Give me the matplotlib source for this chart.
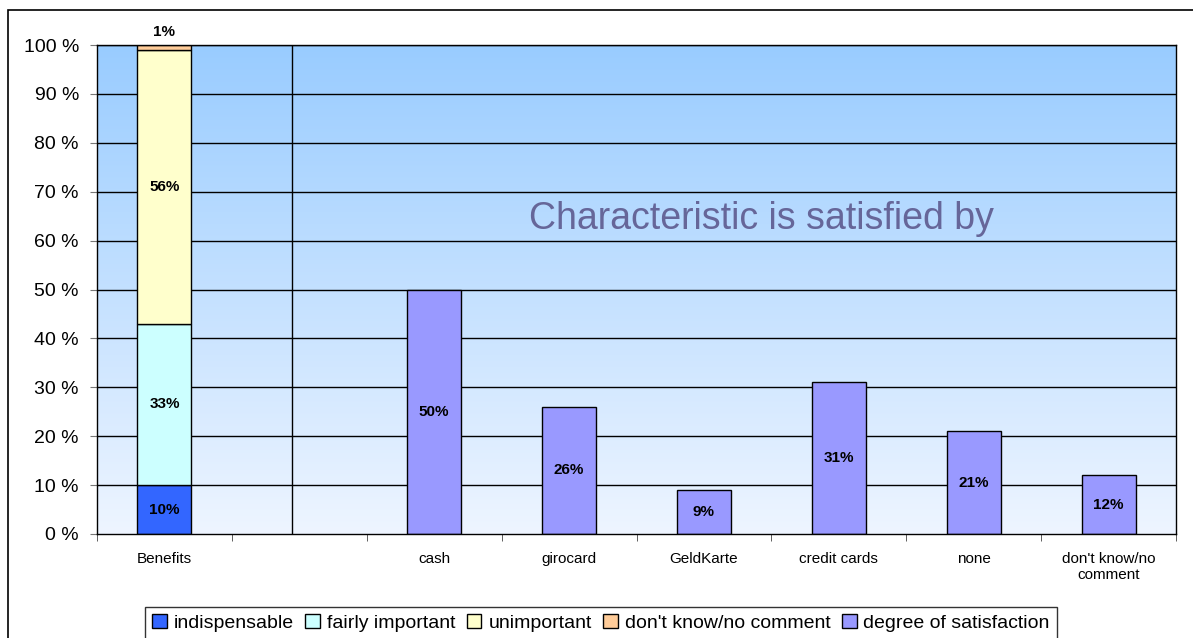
import matplotlib
matplotlib.use("Agg")
import matplotlib.pyplot as plt
import matplotlib.patches as mpatches
import numpy as np

plt.rcParams['font.family'] = ['Liberation Sans', 'DejaVu Sans']

categories = ["Benefits", "", "cash", "girocard", "GeldKarte", "credit cards",
              "none", "don't know/no\ncomment"]

# importance of the characteristic (stacked on the first category)
importance_labels = ["indispensable", "fairly important", "unimportant", "don't know/no comment"]
importance_values = [10, 33, 56, 1]
importance_colors = ["#3366FF", "#CCFFFF", "#FFFFCC", "#FFCC99"]

# degree of satisfaction by payment instrument
satisfaction_label = "degree of satisfaction"
satisfaction_cats = ["cash", "girocard", "GeldKarte", "credit cards", "none",
                     "don't know/no\ncomment"]
satisfaction_values = [50, 26, 9, 31, 21, 12]
satisfaction_color = "#9999FF"

yticks = [0, 10, 20, 30, 40, 50, 60, 70, 80, 90, 100]
ytick_labels = [f"{v} %" for v in yticks]

W, H = 1193, 638
fig = plt.figure(figsize=(W / 100, H / 100), dpi=100)
ax = fig.add_axes([97 / W, 1 - 534 / H, (1176 - 97) / W, (534 - 45) / H])

x = np.arange(len(categories))
ax.set_xlim(-0.5, len(categories) - 0.5)
ax.set_ylim(0, 100)

# vertical gradient background
top = np.array([153, 204, 255]) / 255
bot = np.array([238, 245, 255]) / 255
t = np.linspace(0, 1, 256)[:, None]
grad = (top * (1 - t) + bot * t)[:, None, :]
ax.imshow(grad, aspect='auto', extent=[-0.5, len(categories) - 0.5, 0, 100],
          zorder=0, interpolation='bilinear')

# grid lines
for v in yticks[1:]:
    ax.axhline(v, color='black', lw=1.0, zorder=1)

# separator between importance and satisfaction sections
ax.axvline(0.945, color='black', lw=1.0, zorder=1)

bw = 0.4
handles = []
bottom = 0
for lab, val, col in zip(importance_labels, importance_values, importance_colors):
    b = ax.bar(x[0], val, bw, bottom=bottom, color=col, edgecolor='black',
               lw=1.0, zorder=3, label=lab)
    handles.append(b)
    if val >= 5:
        ax.text(x[0], bottom + val / 2, f"{val}%", ha='center', va='center',
                fontsize=11, fontweight='bold', zorder=4)
    else:
        ax.text(x[0], 102.6, f"{val}%", ha='center', va='center',
                fontsize=11, fontweight='bold', zorder=4, clip_on=False)
    bottom += val

sx = [categories.index(c) for c in satisfaction_cats]
b = ax.bar(sx, satisfaction_values, bw, color=satisfaction_color, edgecolor='black',
           lw=1.0, zorder=3, label=satisfaction_label)
handles.append(b)
for xi, v in zip(sx, satisfaction_values):
    ax.text(xi, v / 2, f"{v}%", ha='center', va='center', fontsize=11,
            fontweight='bold', zorder=4)

ax.text(4.43, 64.5, "Characteristic is satisfied by", ha='center', va='center',
        fontsize=27, color='#666699', zorder=4)

ax.set_yticks(yticks)
ax.set_yticklabels(ytick_labels, fontsize=14)
ax.set_xticks(x)
ax.set_xticklabels(categories, fontsize=11)
ax.set_xticks(np.arange(-0.5, len(categories)), minor=True)
ax.tick_params(axis='x', which='major', length=0, pad=13)
ax.tick_params(axis='x', which='minor', length=5, color='#444444', direction='out')
ax.tick_params(axis='y', length=5, color='#777777', pad=8)

for s in ax.spines.values():
    s.set_color('black')
    s.set_linewidth(1.0)
    s.set_zorder(5)

leg = fig.legend(handles=handles, loc='upper center',
                 bbox_to_anchor=(601 / W, 1 - 607 / H), ncol=5, fontsize=14,
                 frameon=True, fancybox=False, edgecolor='black',
                 handlelength=0.75, handleheight=0.75, handletextpad=0.35,
                 columnspacing=0.6, borderpad=0.35, borderaxespad=0)
leg.get_frame().set_linewidth(1.0)

# outer chart frame
fig.patches.append(mpatches.Rectangle((8 / W, -0.1), 1.2, 1 - 10 / H + 0.1,
                                      transform=fig.transFigure, fill=False,
                                      edgecolor='black', lw=1.2))

fig.savefig("out.png", dpi=100)
